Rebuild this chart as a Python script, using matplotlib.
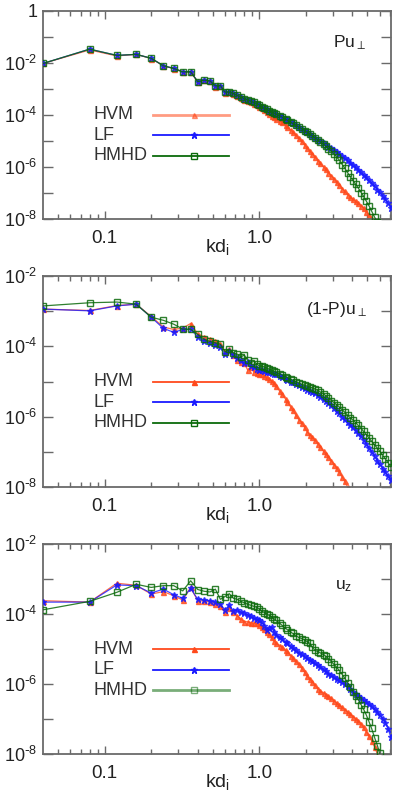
import matplotlib
matplotlib.use('Agg')
import matplotlib.pyplot as plt
from matplotlib.ticker import FixedLocator, NullFormatter, FixedFormatter
import numpy as np

plt.rcParams['font.family'] = ['Liberation Sans', 'DejaVu Sans']
plt.rcParams['mathtext.default'] = 'regular'

# ---------------- data (log10 of spectra) ----------------
n_index = list(range(1, 26)) + [26, 27, 28, 29, 30, 31, 32, 34, 35, 37, 38, 40, 41, 43, 45, 47, 49,
                                 51, 53, 55, 57, 60, 62, 65, 67, 70, 73, 76, 79, 82, 86, 89, 93, 97,
                                 101, 105, 109, 114, 118, 123, 128, 133, 139, 145, 150, 157, 163, 170, 177]
kd = [0.04 * n for n in n_index]

# Panel 1 : P u_perp
top_hvm = [-2.02, -1.50, -1.73, -1.67, -1.83, -2.11, -2.22, -2.35, -2.35, -2.72, -2.67, -2.70, -2.92,
           -2.89, -3.14, -3.13, -3.19, -3.27, -3.33, -3.42, -3.46, -3.52, -3.57, -3.62, -3.68,
           -3.74, -3.81, -3.88, -3.96, -4.03, -4.08, -4.14, -4.24, -4.29, -4.40, -4.46, -4.58, -4.65,
           -4.78, -4.90, -5.02, -5.14, -5.28, -5.40, -5.50, -5.60, -5.76, -5.86, -6.00, -6.09, -6.22,
           -6.34, -6.45, -6.58, -6.69, -6.84, -6.94, -7.06, -7.16, -7.25, -7.32, -7.40, -7.50, -7.58,
           -7.72, -7.86, -8.02, -8.3, -8.5, -8.7, -9.0, -9.3, -9.6, -10.0]
top_lf = [-2.02, -1.47, -1.71, -1.67, -1.82, -2.11, -2.21, -2.34, -2.34, -2.72, -2.66, -2.69, -2.88,
          -2.87, -3.12, -3.12, -3.17, -3.25, -3.30, -3.38, -3.42, -3.47, -3.52, -3.56, -3.62,
          -3.71, -3.75, -3.79, -3.84, -3.88, -3.92, -3.96, -4.04, -4.08, -4.17, -4.21, -4.28, -4.32,
          -4.39, -4.47, -4.53, -4.60, -4.67, -4.74, -4.80, -4.87, -4.95, -5.00, -5.08, -5.14, -5.22,
          -5.29, -5.35, -5.42, -5.49, -5.58, -5.65, -5.74, -5.84, -5.92, -6.01, -6.10, -6.21, -6.30,
          -6.40, -6.51, -6.62, -6.73, -6.87, -6.97, -7.12, -7.25, -7.40, -7.57]
top_hmhd = [-2.02, -1.47, -1.71, -1.67, -1.82, -2.11, -2.21, -2.34, -2.34, -2.72, -2.66, -2.69, -2.88,
            -2.87, -3.12, -3.12, -3.17, -3.25, -3.30, -3.38, -3.42, -3.47, -3.52, -3.56, -3.62,
            -3.71, -3.75, -3.79, -3.84, -3.88, -3.92, -3.96, -4.04, -4.08, -4.17, -4.21, -4.28, -4.32,
            -4.39, -4.47, -4.53, -4.60, -4.67, -4.74, -4.80, -4.87, -4.97, -5.03, -5.13, -5.19, -5.30,
            -5.39, -5.50, -5.61, -5.73, -5.91, -6.04, -6.22, -6.38, -6.53, -6.67, -6.81, -6.99, -7.13,
            -7.32, -7.50, -7.70, -7.93, -8.12, -8.35, -8.7, -9.0, -9.3, -9.6]

# Panel 2 : (1-P) u_perp
mid_hvm = [-2.94, -2.98, -2.84, -2.80, -3.15, -3.45, -3.52, -3.48, -3.35, -3.65, -3.73, -3.78, -3.84,
           -3.92, -4.15, -4.08, -4.25, -4.38, -4.44, -4.48, -4.67, -4.60, -4.72, -4.76, -4.78,
           -4.80, -4.84, -4.88, -4.93, -4.98, -5.05, -5.13, -5.28, -5.36, -5.50, -5.58, -5.73, -5.80,
           -5.95, -6.08, -6.17, -6.30, -6.43, -6.52, -6.58, -6.66, -6.78, -6.86, -6.98, -7.05, -7.15,
           -7.26, -7.36, -7.46, -7.57, -7.72, -7.83, -8.0, -8.15, -8.3, -8.45, -8.6, -8.8, -9.0,
           -9.2, -9.4, -9.6, -9.8, -10.0, -10.2, -10.4, -10.6, -10.8, -11.0]
mid_lf = [-2.94, -2.99, -2.85, -2.80, -3.17, -3.49, -3.60, -3.52, -3.52, -3.72, -3.84, -3.90, -3.97,
          -4.02, -4.22, -4.12, -4.25, -4.33, -4.40, -4.48, -4.45, -4.55, -4.60, -4.63, -4.67,
          -4.68, -4.70, -4.72, -4.74, -4.76, -4.78, -4.80, -4.85, -4.87, -4.92, -4.95, -5.00, -5.02,
          -5.07, -5.11, -5.15, -5.19, -5.23, -5.27, -5.31, -5.34, -5.39, -5.43, -5.49, -5.54, -5.61,
          -5.68, -5.75, -5.83, -5.90, -6.00, -6.07, -6.16, -6.24, -6.30, -6.38, -6.45, -6.56, -6.65,
          -6.78, -6.89, -7.00, -7.13, -7.26, -7.35, -7.48, -7.58, -7.69, -7.80]
mid_hmhd = [-2.85, -2.76, -2.74, -2.80, -3.17, -3.26, -3.37, -3.51, -3.51, -3.66, -3.80, -3.86, -3.90,
            -3.94, -4.15, -4.08, -4.19, -4.22, -4.30, -4.25, -4.39, -4.47, -4.42, -4.50, -4.56,
            -4.56, -4.59, -4.62, -4.65, -4.68, -4.70, -4.73, -4.78, -4.81, -4.86, -4.89, -4.94, -4.96,
            -5.00, -5.04, -5.08, -5.11, -5.13, -5.16, -5.18, -5.21, -5.25, -5.30, -5.35, -5.40, -5.47,
            -5.54, -5.60, -5.66, -5.72, -5.81, -5.87, -5.96, -6.04, -6.10, -6.17, -6.25, -6.34, -6.42,
            -6.51, -6.61, -6.70, -6.80, -6.90, -6.98, -7.10, -7.20, -7.31, -7.42]

# Panel 3 : u_z
bot_hvm = [-3.62, -3.66, -3.12, -3.18, -3.43, -3.36, -3.48, -3.60, -3.24, -3.62, -3.63, -3.66, -3.70,
           -3.78, -3.95, -3.82, -3.95, -4.05, -4.15, -4.22, -4.22, -4.25, -4.26, -4.27, -4.32,
           -4.36, -4.42, -4.50, -4.58, -4.66, -4.76, -4.84, -4.90, -4.95, -5.04, -5.08, -5.19, -5.25,
           -5.35, -5.44, -5.55, -5.66, -5.78, -5.86, -5.94, -6.03, -6.14, -6.20, -6.25, -6.30, -6.34,
           -6.41, -6.48, -6.55, -6.61, -6.67, -6.73, -6.80, -6.86, -6.93, -6.99, -7.05, -7.15, -7.24,
           -7.37, -7.48, -7.62, -7.79, -8.0, -8.2, -8.5, -8.8, -9.1, -9.5]
bot_lf = [-3.66, -3.66, -3.17, -3.19, -3.40, -3.29, -3.45, -3.55, -3.27, -3.58, -3.60, -3.62, -3.66,
          -3.72, -3.88, -3.75, -3.92, -3.88, -3.95, -3.97, -4.02, -4.07, -4.11, -4.15, -4.18,
          -4.24, -4.33, -4.45, -4.40, -4.38, -4.50, -4.60, -4.67, -4.72, -4.80, -4.84, -4.92, -4.96,
          -5.03, -5.10, -5.15, -5.21, -5.26, -5.31, -5.35, -5.40, -5.47, -5.51, -5.58, -5.62, -5.70,
          -5.75, -5.80, -5.85, -5.89, -5.95, -5.99, -6.07, -6.14, -6.22, -6.28, -6.34, -6.41, -6.45,
          -6.51, -6.57, -6.63, -6.71, -6.80, -6.88, -6.99, -7.10, -7.28, -7.52]
bot_hmhd = [-3.88, -3.64, -3.38, -3.15, -3.24, -3.19, -3.19, -3.34, -3.05, -3.30, -3.35, -3.37, -3.29,
            -3.58, -3.50, -3.42, -3.55, -3.58, -3.64, -3.68, -3.72, -3.75, -3.78, -3.80, -3.86,
            -3.92, -3.96, -4.00, -4.04, -4.08, -4.13, -4.18, -4.27, -4.32, -4.41, -4.45, -4.52, -4.55,
            -4.62, -4.67, -4.70, -4.74, -4.79, -4.84, -4.95, -5.03, -5.08, -5.11, -5.16, -5.20, -5.28,
            -5.36, -5.44, -5.52, -5.61, -5.73, -5.83, -5.96, -6.09, -6.22, -6.34, -6.45, -6.60, -6.72,
            -6.89, -7.08, -7.27, -7.53, -7.76, -7.98, -8.3, -8.6, -9.0, -9.5]

series_names = ['HVM', 'LF', 'HMHD']
panel_titles = [r'$Pu_{\perp}$', r'$(1\text{-}P)u_{\perp}$', r'$u_{z}$']

# ---------------- style ----------------
C_HVM = '#ff4a1c'
C_LF = '#1a1aff'
C_HMHD = '#0b6a0b'
SPINE = '#6a6a6a'
TXT = '#222222'

fig = plt.figure(figsize=(3.99, 7.98), dpi=100)
L, W = 0.1078, 0.8722
axes_rects = [[L, 0.7256, W, 0.2607], [L, 0.3897, W, 0.2644], [L, 0.0551, W, 0.2632]]
ylims = [(1e-8, 1.0), (1e-8, 1e-2), (1e-8, 1e-2)]
data = [(top_hvm, top_lf, top_hmhd), (mid_hvm, mid_lf, mid_hmhd), (bot_hvm, bot_lf, bot_hmhd)]
title_pos = [(0.833, 0.846), (0.757, 0.84), (0.838, 0.80)]
hvm_alpha = [0.55, 1.0, 1.0]
hmhd_leg_alpha = [1.0, 1.0, 0.55]

for p in range(3):
    ax = fig.add_axes(axes_rects[p])
    hvm, lf, hmhd = data[p]
    ax.plot(kd, 10 ** np.array(hvm), color=C_HVM, lw=0.9, marker='^', ms=3.6,
            mec=C_HVM, mfc=C_HVM, alpha=0.8, zorder=2)
    ax.plot(kd, 10 ** np.array(lf), color=C_LF, lw=0.9, marker='*', ms=4.5,
            mec=C_LF, mfc=C_LF, alpha=0.8, zorder=3)
    ax.plot(kd, 10 ** np.array(hmhd), color=C_HMHD, lw=0.9, marker='s', ms=4.2,
            mec=C_HMHD, mfc='none', mew=1.0, alpha=0.85, zorder=4)
    ax.set_xscale('log')
    ax.set_yscale('log')
    ax.set_xlim(0.04, 7.1)
    ax.set_ylim(*ylims[p])

    # y ticks: every decade, label every second
    lo = int(round(np.log10(ylims[p][0])))
    hi = int(round(np.log10(ylims[p][1])))
    decs = list(range(lo, hi + 1))
    labels = []
    for d in decs:
        if (d - hi) % 2 == 0:
            labels.append('1' if d == 0 else r'$10^{\text{-}%d}$' % (-d))
        else:
            labels.append('')
    ax.yaxis.set_major_locator(FixedLocator([10.0 ** d for d in decs]))
    ax.yaxis.set_major_formatter(FixedFormatter(labels))
    ax.yaxis.set_minor_locator(FixedLocator([]))
    # x ticks
    ax.xaxis.set_major_locator(FixedLocator([0.1, 1.0]))
    ax.xaxis.set_major_formatter(FixedFormatter(['0.1', '1.0']))
    minors = [m * 0.01 for m in range(5, 10)] + [m * 0.1 for m in range(2, 10)] + [float(m) for m in range(2, 8)]
    ax.xaxis.set_minor_locator(FixedLocator(minors))
    ax.xaxis.set_minor_formatter(NullFormatter())

    ax.tick_params(which='both', direction='in', top=True, right=True, color=SPINE,
                   labelcolor=TXT, width=1.0)
    ax.tick_params(axis='y', which='major', length=7, pad=4, labelsize=13)
    ax.tick_params(axis='x', which='major', length=6, pad=8, labelsize=13.5)
    ax.tick_params(axis='x', which='minor', length=3.5)
    for s in ax.spines.values():
        s.set_color(SPINE)
        s.set_linewidth(1.3)

    ax.set_xlabel(r'$kd_{i}$', fontsize=14, color=TXT)
    ax.xaxis.set_label_coords(0.5, -0.085)

    ax.text(title_pos[p][0], title_pos[p][1], panel_titles[p], transform=ax.transAxes,
            fontsize=12.5, color=TXT, ha='left', va='center')

    # legend (gnuplot style: text, then line with a marker in its middle)
    leg_y = [0.50, 0.402, 0.304]
    leg_style = [(C_HVM, '^', C_HVM, 3.6, hvm_alpha[p]),
                 (C_LF, '*', C_LF, 4.5, 1.0),
                 (C_HMHD, 's', 'none', 4.2, hmhd_leg_alpha[p])]
    for i, name in enumerate(series_names):
        col, mk, mfc, ms, a = leg_style[i]
        y = leg_y[i]
        ax.text(0.144, y, name, transform=ax.transAxes, fontsize=13, color='#333333',
                ha='left', va='center')
        lw = 2.0 if (i == 0 and p == 0) or (i == 2 and p == 2) else 1.3
        ax.plot([0.316, 0.534], [y, y], transform=ax.transAxes, color=col, lw=lw, alpha=a)
        ax.plot([0.434], [y], transform=ax.transAxes, marker=mk, ms=ms, mec=col, mfc=mfc,
                mew=1.0, alpha=a, linestyle='none')

fig.savefig('out.png', dpi=100)
